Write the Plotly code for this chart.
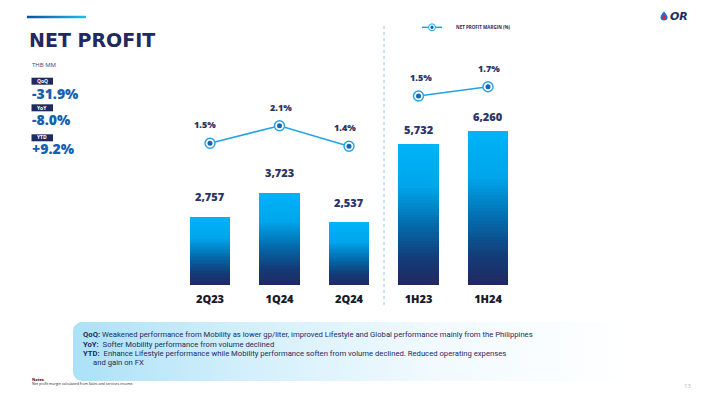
import numpy as np
import plotly.graph_objects as go

# ---------------- data ----------------
categories = ["2Q23", "1Q24", "2Q24", "1H23", "1H24"]
net_profit = [2757, 3723, 2537, 5732, 6260]          # THB MM
margin_q = [1.5, 2.1, 1.4]                             # quarterly net profit margin (%)
margin_h = [1.5, 1.7]                                  # half-year net profit margin (%)
changes_labels = ["QoQ", "YoY", "YTD"]
changes_values = ["-31.9%", "-8.0%", "+9.2%"]
notes_heads = ["QoQ:", "YoY:", "YTD:"]
notes_texts = [
    " Weakened performance from Mobility as lower gp/liter, improved Lifestyle and Global performance mainly from the Philippines",
    "  Softer Mobility performance from volume declined",
    "  Enhance Lifestyle performance while Mobility performance soften from volume declined. Reduced operating expenses",
]
notes_cont = "and gain on FX"

W, H = 701, 394
def px(x):
    return x / W
def py(y):
    return 1 - y / H

NAVY = "#1F2A5E"
TXT = "#2B3467"
LINE = "#22A3E6"
DOT = "#1466B2"

fig = go.Figure()

# --------- gradient bars (stacked slices of each bar) ---------
N = 48
stops = [(0.0, (0, 180, 247)), (0.3, (0, 165, 235)), (0.55, (3, 112, 178)),
         (0.8, (18, 62, 122)), (1.0, (33, 40, 96))]
def grad(t):  # t=0 top, 1 bottom
    for (a, ca), (b, cb) in zip(stops[:-1], stops[1:]):
        if a <= t <= b:
            f = (t - a) / (b - a)
            c = [round(ca[i] + (cb[i] - ca[i]) * f) for i in range(3)]
            return f"rgb({c[0]},{c[1]},{c[2]})"
    return "rgb(33,40,96)"

for k in range(N):
    t = 1 - (k + 0.5) / N
    fig.add_trace(go.Bar(
        x=categories, y=[v / N for v in net_profit],
        marker=dict(color=grad(t), line=dict(width=0)),
        width=0.58, showlegend=False, hoverinfo="skip",
    ))

# --------- margin lines ---------
for cats, vals, yax in [(categories[:3], margin_q, "y2"), (categories[3:], margin_h, "y3")]:
    fig.add_trace(go.Scatter(
        x=cats, y=vals, yaxis=yax, mode="lines+markers",
        line=dict(color=LINE, width=1.6),
        marker=dict(symbol="circle", size=10, color="white",
                    line=dict(color=LINE, width=1.4)),
        showlegend=False, hoverinfo="skip",
    ))
    fig.add_trace(go.Scatter(
        x=cats, y=vals, yaxis=yax, mode="markers",
        marker=dict(symbol="circle", size=5, color=DOT),
        showlegend=False, hoverinfo="skip",
    ))

annotations = []
# bar value labels
for i, (c, v) in enumerate(zip(categories, net_profit)):
    annotations.append(dict(
        x=c, y=v, xref="x", yref="y", text=f"{v:,}", showarrow=False,
        yanchor="bottom", yshift=11 if i < 3 else 5,
        font=dict(family="Open Sans", size=11, color=TXT, weight=800)))
# margin labels
for cats, vals, yref, shifts in [(categories[:3], margin_q, "y2", [-5, 1, -4]),
                                 (categories[3:], margin_h, "y3", [2, 1])]:
    for c, v, s in zip(cats, vals, shifts):
        annotations.append(dict(
            x=c, y=v, xref="x", yref=yref, text=f"{v:.1f}%", showarrow=False,
            yanchor="bottom", yshift=10, xshift=s,
            font=dict(family="Open Sans", size=9, color=TXT, weight=800)))

# ---------- pixel-space decorations ----------
def rounded_rect(x0, y0, x1, y1, r, n=8):
    xs, ys = [], []
    corners = [(x1 - r, y0 + r, -90, 0), (x1 - r, y1 - r, 0, 90),
               (x0 + r, y1 - r, 90, 180), (x0 + r, y0 + r, 180, 270)]
    for cx, cy, a0, a1 in corners:
        for a in np.linspace(np.radians(a0), np.radians(a1), n):
            xs.append(cx + r * np.cos(a))
            ys.append(cy + r * np.sin(a))
    xs.append(xs[0]); ys.append(ys[0])
    return xs, ys

bx, by = rounded_rect(73, 322, 636, 381, 9)
fig.add_trace(go.Scatter(
    x=bx, y=by, xaxis="x2", yaxis="y4", mode="lines", fill="toself",
    line=dict(width=0, color="rgba(0,0,0,0)"),
    fillgradient=dict(type="horizontal",
                      colorscale=[[0, "#ABE1F7"], [0.3, "#D2EFFB"], [0.65, "#F2FAFE"], [1, "#FFFFFF"]]),
    showlegend=False, hoverinfo="skip"))

# header gradient bar
fig.add_trace(go.Scatter(
    x=[27, 86, 86, 27, 27], y=[15.7, 15.7, 18.3, 18.3, 15.7], xaxis="x2", yaxis="y4",
    mode="lines", fill="toself", line=dict(width=0, color="rgba(0,0,0,0)"),
    fillgradient=dict(type="horizontal", colorscale=[[0, "#0B4FA3"], [1, "#22BDF2"]]),
    showlegend=False, hoverinfo="skip"))

shapes = []
# divider
shapes.append(dict(type="line", xref="paper", yref="paper", x0=px(384), x1=px(384),
                   y0=py(26), y1=py(305), line=dict(color="#8CCBEA", width=1, dash="dot")))
# legend icon
shapes.append(dict(type="line", xref="paper", yref="paper", x0=px(422), x1=px(442),
                   y0=py(27.3), y1=py(27.3), line=dict(color=LINE, width=1.5)))
shapes.append(dict(type="circle", xref="paper", yref="paper", x0=px(428.5), x1=px(435.5),
                   y0=py(30.8), y1=py(23.8), fillcolor="white", line=dict(color=LINE, width=1)))
shapes.append(dict(type="circle", xref="paper", yref="paper", x0=px(430.3), x1=px(433.7),
                   y0=py(29), y1=py(25.6), fillcolor=DOT, line=dict(width=0)))
# badges
for yb in [77.7, 104.3, 134.3]:
    shapes.append(dict(type="rect", xref="paper", yref="paper", x0=px(31.5), x1=px(53),
                       y0=py(yb + 7), y1=py(yb), fillcolor=NAVY, line=dict(width=0)))
# logo drop
shapes.append(dict(type="path", xref="paper", yref="paper",
                   path=f"M {px(664)},{py(11.5)} Q {px(660.5)},{py(15.5)} {px(660.5)},{py(17.3)} "
                        f"Q {px(660.5)},{py(20.6)} {px(664)},{py(20.6)} Q {px(667.5)},{py(20.6)} {px(667.5)},{py(17.3)} "
                        f"Q {px(667.5)},{py(15.5)} {px(664)},{py(11.5)} Z",
                   fillcolor="#1E6FD0", line=dict(width=0)))
shapes.append(dict(type="circle", xref="paper", yref="paper", x0=px(662.4), x1=px(665.6),
                   y0=py(19.6), y1=py(15.4), fillcolor="#E52330", line=dict(width=0)))

# text annotations
annotations += [
    dict(x=px(27), y=py(40), xref="paper", yref="paper", text="NET PROFIT", showarrow=False,
         xanchor="left", yanchor="middle",
         font=dict(family="DejaVu Sans", size=19, color=NAVY, weight="bold")),
    dict(x=px(29.5), y=py(65), xref="paper", yref="paper", text="THB MM", showarrow=False,
         xanchor="left", yanchor="middle",
         font=dict(family="Open Sans", size=6, color="#3F3D6E")),
    dict(x=px(454), y=py(27.3), xref="paper", yref="paper", text="NET PROFIT MARGIN (%)",
         showarrow=False, xanchor="left", yanchor="middle",
         font=dict(family="Open Sans", size=4.5, color=NAVY, weight="bold")),
    dict(x=px(668), y=py(16.5), xref="paper", yref="paper", text="OR", showarrow=False,
         xanchor="left", yanchor="middle",
         font=dict(family="DejaVu Sans", size=11, color=NAVY, weight="bold", style="italic")),
    dict(x=px(29.5), y=py(379), xref="paper", yref="paper", text="Notes", showarrow=False,
         xanchor="left", yanchor="middle",
         font=dict(family="Open Sans", size=4, color="#111", weight="bold")),
    dict(x=px(29.5), y=py(383.2), xref="paper", yref="paper",
         text="Net profit margin calculated from Sales and services income.", showarrow=False,
         xanchor="left", yanchor="middle",
         font=dict(family="Open Sans", size=3.6, color="#222")),
    dict(x=px(693), y=py(385.5), xref="paper", yref="paper", text="13", showarrow=False,
         xanchor="right", yanchor="middle",
         font=dict(family="Open Sans", size=6, color="#B8B5D0")),
]
for lab, val, yb, yv in zip(changes_labels, changes_values, [81, 107.7, 137.2], [93, 119.3, 148.5]):
    annotations.append(dict(x=px(42.2), y=py(yb), xref="paper", yref="paper", text=lab,
                            showarrow=False, xanchor="center", yanchor="middle",
                            font=dict(family="Open Sans", size=5, color="white", weight="bold")))
    annotations.append(dict(x=px(29.5), y=py(yv), xref="paper", yref="paper", text=val,
                            showarrow=False, xanchor="left", yanchor="middle",
                            font=dict(family="Open Sans", size=14, color="#1560B0", weight=800)))
note_font = "Roboto, sans-serif"
for head, body, yl in zip(notes_heads, notes_texts, [334.3, 344, 353.3]):
    annotations.append(dict(x=px(80.5), y=py(yl), xref="paper", yref="paper",
                            text=f"<b>{head}</b>{body}", showarrow=False,
                            xanchor="left", yanchor="middle",
                            font=dict(family=note_font, size=7.7, color=NAVY)))
annotations.append(dict(x=px(91.5), y=py(362.7), xref="paper", yref="paper", text=notes_cont,
                        showarrow=False, xanchor="left", yanchor="middle",
                        font=dict(family=note_font, size=7.7, color=NAVY)))

XL, XR = 175.25, 522.75
YB, YT = 285, 25
ppu = 0.02458
fig.update_layout(
    width=W, height=H, margin=dict(l=0, r=0, t=0, b=0),
    paper_bgcolor="white", plot_bgcolor="rgba(0,0,0,0)",
    barmode="stack", bargap=0.42,
    xaxis=dict(domain=[px(XL), px(XR)], type="category", categoryorder="array",
               categoryarray=categories, range=[-0.5, 4.5], showgrid=False, showline=False,
               zeroline=False, ticks="", ticklabelstandoff=6,
               tickfont=dict(family="Open Sans", size=11, color="#1A1A2A", weight=800)),
    yaxis=dict(domain=[py(YB), py(YT)], range=[0, (YB - YT) / ppu], visible=False),
    yaxis2=dict(domain=[py(YB), py(YT)], overlaying="y",
                range=[1.5 - (YB - 143.3) / 29.3, 1.5 + (143.3 - YT) / 29.3], visible=False),
    yaxis3=dict(domain=[py(YB), py(YT)], overlaying="y",
                range=[1.5 - (YB - 96) / 46.5, 1.5 + (96 - YT) / 46.5], visible=False),
    xaxis2=dict(domain=[0, 1], range=[0, W], visible=False, anchor="y4"),
    yaxis4=dict(domain=[0, 1], range=[H, 0], visible=False, anchor="x2"),
    shapes=shapes, annotations=annotations, showlegend=False,
)

fig.write_html("out.html", config={"displayModeBar": False},
               post_script="document.body.style.margin='0';document.body.style.padding='0';")
